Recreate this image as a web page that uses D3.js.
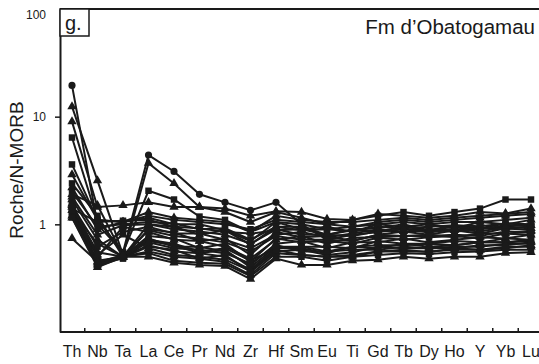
<!DOCTYPE html>
<html>
<head>
<meta charset="utf-8">
<script src="https://cdn.jsdelivr.net/npm/d3@7"></script>
<style>
  body { margin: 0; background: #fff; }
  text { font-family: "Liberation Sans", Arial, sans-serif; fill: #1a1a1a; }
</style>
</head>
<body>
<script>
const w = 539;
const h = 364;

const elements = ["Th", "Nb", "Ta", "La", "Ce", "Pr", "Nd", "Zr", "Hf", "Sm", "Eu", "Ti", "Gd", "Tb", "Dy", "Ho", "Y", "Yb", "Lu"];
const yTicks = [1, 10, 100];

// Roche/N-MORB, one array per sample
const s01 = [19.5, 1.0, 0.55, 4.4, 3.1, 1.9, 1.6, 1.35, 1.6, 1.0, 0.72, 0.8, 0.85, 0.9, 0.88, 0.9, 0.92, 0.95, 1.0];
const s02 = [12.4, 2.55, 0.52, 3.7, 2.4, 1.45, 1.3, 1.05, 1.3, 1.15, 1.0, 0.95, 1.05, 1.1, 1.05, 1.1, 1.15, 1.2, 1.25];
const s03 = [9.0, 1.45, 1.5, 1.6, 1.45, 1.45, 1.4, 1.2, 1.32, 1.3, 1.12, 1.1, 1.25, 1.2, 1.15, 1.2, 1.3, 1.26, 1.4];
const s04 = [6.4, 1.1, 0.55, 2.05, 1.7, 1.18, 1.1, 0.85, 1.05, 1.0, 0.9, 0.95, 1.0, 1.05, 1.0, 1.05, 1.05, 1.1, 1.15];
const s05 = [3.6, 1.1, 1.05, 1.2, 1.1, 1.05, 1.0, 0.9, 1.1, 1.05, 1.0, 1.1, 1.2, 1.3, 1.2, 1.3, 1.4, 1.7, 1.7];
const s06 = [2.9, 1.1, 1.05, 1.3, 1.15, 1.1, 1.05, 0.85, 1.2, 1.1, 1.05, 1.05, 1.1, 1.15, 1.1, 1.15, 1.2, 1.25, 1.3];
const s07 = [2.2, 0.9, 1.05, 1.15, 1.0, 1.0, 0.88, 0.7, 1.05, 0.9, 0.95, 0.85, 1.0, 0.95, 1.0, 0.92, 1.05, 1.0, 1.1];
const s08 = [1.7, 0.72, 0.5, 1.0, 0.95, 0.8, 0.88, 0.65, 0.95, 0.95, 0.8, 0.9, 0.92, 1.0, 0.88, 0.98, 0.92, 1.02, 0.98];
const s09 = [1.5, 0.62, 0.85, 0.95, 0.82, 0.82, 0.72, 0.6, 0.8, 0.85, 0.76, 0.82, 0.9, 0.84, 0.9, 0.85, 0.92, 0.9, 0.96];
const s10 = [1.45, 0.55, 0.5, 0.9, 0.84, 0.7, 0.74, 0.52, 0.85, 0.76, 0.78, 0.7, 0.8, 0.86, 0.8, 0.88, 0.82, 0.92, 0.88];
const s11 = [1.4, 1.05, 1.08, 1.1, 0.95, 0.92, 0.85, 0.82, 0.88, 0.9, 0.8, 0.88, 0.86, 0.95, 0.88, 0.95, 0.9, 0.98, 0.96];
const s12 = [1.35, 0.5, 0.95, 0.85, 0.72, 0.7, 0.62, 0.48, 0.72, 0.78, 0.66, 0.75, 0.76, 0.78, 0.8, 0.76, 0.82, 0.82, 0.86];
const s13 = [1.3, 0.46, 0.5, 0.78, 0.74, 0.6, 0.66, 0.45, 0.74, 0.68, 0.7, 0.66, 0.75, 0.72, 0.76, 0.78, 0.74, 0.82, 0.8];
const s14 = [1.55, 0.44, 0.52, 0.74, 0.62, 0.62, 0.56, 0.42, 0.66, 0.7, 0.6, 0.68, 0.68, 0.74, 0.68, 0.72, 0.76, 0.74, 0.8];
const s15 = [1.25, 0.44, 0.48, 0.7, 0.64, 0.54, 0.58, 0.4, 0.62, 0.62, 0.62, 0.6, 0.7, 0.66, 0.66, 0.7, 0.68, 0.74, 0.72];
const s16 = [1.2, 0.42, 0.5, 0.64, 0.56, 0.54, 0.5, 0.38, 0.6, 0.6, 0.54, 0.62, 0.6, 0.66, 0.62, 0.64, 0.68, 0.68, 0.7];
const s17 = [1.6, 0.41, 0.49, 0.62, 0.58, 0.48, 0.52, 0.36, 0.56, 0.58, 0.52, 0.55, 0.62, 0.6, 0.6, 0.62, 0.62, 0.66, 0.66];
const s18 = [1.15, 0.4, 0.5, 0.56, 0.5, 0.48, 0.45, 0.34, 0.54, 0.52, 0.5, 0.52, 0.56, 0.58, 0.55, 0.6, 0.58, 0.62, 0.62];
const s19 = [1.16, 0.42, 0.5, 0.54, 0.46, 0.44, 0.43, 0.33, 0.5, 0.5, 0.46, 0.5, 0.52, 0.54, 0.53, 0.55, 0.56, 0.58, 0.58];
const s20 = [0.74, 0.45, 0.5, 0.5, 0.44, 0.42, 0.41, 0.31, 0.48, 0.42, 0.42, 0.46, 0.47, 0.5, 0.48, 0.5, 0.5, 0.54, 0.55];
const s21 = [2.0, 0.95, 1.0, 1.05, 1.02, 0.9, 0.92, 0.72, 0.95, 0.88, 0.9, 0.86, 0.95, 0.92, 0.95, 0.98, 0.96, 1.02, 1.0];
const s22 = [1.8, 0.8, 0.98, 1.0, 0.9, 0.86, 0.8, 0.66, 0.9, 0.8, 0.8, 0.78, 0.86, 0.9, 0.84, 0.9, 0.86, 0.94, 0.92];
const s23 = [1.35, 0.66, 0.5, 0.72, 0.66, 0.56, 0.6, 0.46, 0.6, 0.62, 0.56, 0.62, 0.64, 0.64, 0.66, 0.64, 0.68, 0.68, 0.72];
const s24 = [1.5, 0.52, 0.8, 0.6, 0.52, 0.5, 0.47, 0.37, 0.58, 0.52, 0.5, 0.5, 0.56, 0.56, 0.56, 0.58, 0.58, 0.6, 0.64];
const s25 = [2.4, 1.2, 0.5, 0.88, 0.78, 0.74, 0.68, 0.56, 0.78, 0.72, 0.72, 0.7, 0.8, 0.78, 0.78, 0.8, 0.78, 0.86, 0.84];
const s26 = [1.9, 1.5, 0.52, 0.68, 0.6, 0.58, 0.54, 0.43, 0.64, 0.56, 0.56, 0.58, 0.58, 0.62, 0.6, 0.6, 0.64, 0.64, 0.68];

const samples = [s01, s02, s03, s04, s05, s06, s07, s08, s09, s10, s11, s12, s13, s14, s15, s16, s17, s18, s19, s20, s21, s22, s23, s24, s25, s26];
const shapes = ["circle", "triangle", "triangle", "square", "square", "triangle", "triangle", "triangle", "square", "triangle", "square", "triangle",
  "square", "triangle", "square", "triangle", "square", "triangle", "square", "triangle", "square", "triangle", "square", "triangle", "square", "triangle"];

const svg = d3.select("body").append("svg").attr("width", w).attr("height", h);

const m = { t: 9, r: -8, b: 32, l: 60 };
const ink = "#1a1a1a";

const xScale = d3.scalePoint().domain(elements).range([72, 531]);
const yScale = d3.scaleLog().domain([0.1, 100]).range([h - m.b, m.t]);

// frame
svg.append("line")
  .attr("x1", m.l).attr("x2", w)
  .attr("y1", m.t).attr("y2", m.t)
  .attr("stroke", ink).attr("stroke-width", 2);
svg.append("line")
  .attr("x1", m.l).attr("x2", w)
  .attr("y1", h - m.b).attr("y2", h - m.b)
  .attr("stroke", ink).attr("stroke-width", 2);

// y-axis
const yAxis = d3.axisLeft(yScale)
  .tickValues(yTicks)
  .tickFormat(d3.format("d"))
  .tickSize(5)
  .tickSizeOuter(0)
  .tickPadding(9);
const yAG = svg.append("g")
  .attr("transform", `translate(${m.l}, 0)`)
  .call(yAxis);
yAG.select(".domain").attr("stroke", ink).attr("stroke-width", 2);
yAG.selectAll(".tick line").attr("stroke", ink).attr("stroke-width", 1.5);
yAG.selectAll(".tick text")
  .attr("font-size", 12)
  .attr("font-family", "Liberation Sans, Arial, sans-serif")
  .attr("fill", ink)
  .attr("dy", (d) => (d === 100 ? "0.75em" : "0.32em"));
yAG.selectAll(".tick").filter((d) => d === 100).select("line").remove();

svg.append("text")
  .attr("transform", "rotate(-90)")
  .attr("x", -170)
  .attr("y", 23)
  .attr("text-anchor", "middle")
  .attr("font-size", 19)
  .text("Roche/N-MORB");

// x ticks sit between the elements, pointing inward
const mids = d3.pairs(elements).map(([a, b]) => (xScale(a) + xScale(b)) / 2);
svg.append("g")
  .selectAll("line")
  .data(mids)
  .enter()
  .append("line")
  .attr("x1", (d) => d).attr("x2", (d) => d)
  .attr("y1", h - m.b).attr("y2", h - m.b - 4)
  .attr("stroke", ink).attr("stroke-width", 1.5);

svg.append("g")
  .selectAll("text")
  .data(elements)
  .enter()
  .append("text")
  .attr("x", (d) => xScale(d))
  .attr("y", 357)
  .attr("text-anchor", "middle")
  .attr("font-size", 16)
  .text((d) => d);

// lines
const line = d3.line()
  .x((d, i) => xScale(elements[i]))
  .y((d) => yScale(d));

const plot = svg.append("g");
plot.selectAll("path.sample")
  .data(samples)
  .enter()
  .append("path")
  .attr("class", "sample")
  .attr("d", line)
  .attr("fill", "none")
  .attr("stroke", ink)
  .attr("stroke-width", 2);

const symbolOf = { circle: d3.symbolCircle, square: d3.symbolSquare, triangle: d3.symbolTriangle };
const sizeOf = { circle: 40, square: 42, triangle: 38 };

samples.forEach((vals, k) => {
  const shape = shapes[k];
  plot.append("g")
    .selectAll("path")
    .data(vals)
    .enter()
    .append("path")
    .attr("transform", (d, i) => `translate(${xScale(elements[i])}, ${yScale(d)})`)
    .attr("d", d3.symbol().type(symbolOf[shape]).size(sizeOf[shape]))
    .attr("fill", ink);
});

// panel label and title
svg.append("rect")
  .attr("x", m.l).attr("y", m.t)
  .attr("width", 29).attr("height", 27)
  .attr("fill", "#fff")
  .attr("stroke", ink).attr("stroke-width", 1.5);
svg.append("text")
  .attr("x", 65)
  .attr("y", 30)
  .attr("font-size", 20)
  .text("g.");

svg.append("text")
  .attr("x", 535)
  .attr("y", 34)
  .attr("text-anchor", "end")
  .attr("font-size", 20.5)
  .text("Fm d’Obatogamau");
</script>
</body>
</html>
